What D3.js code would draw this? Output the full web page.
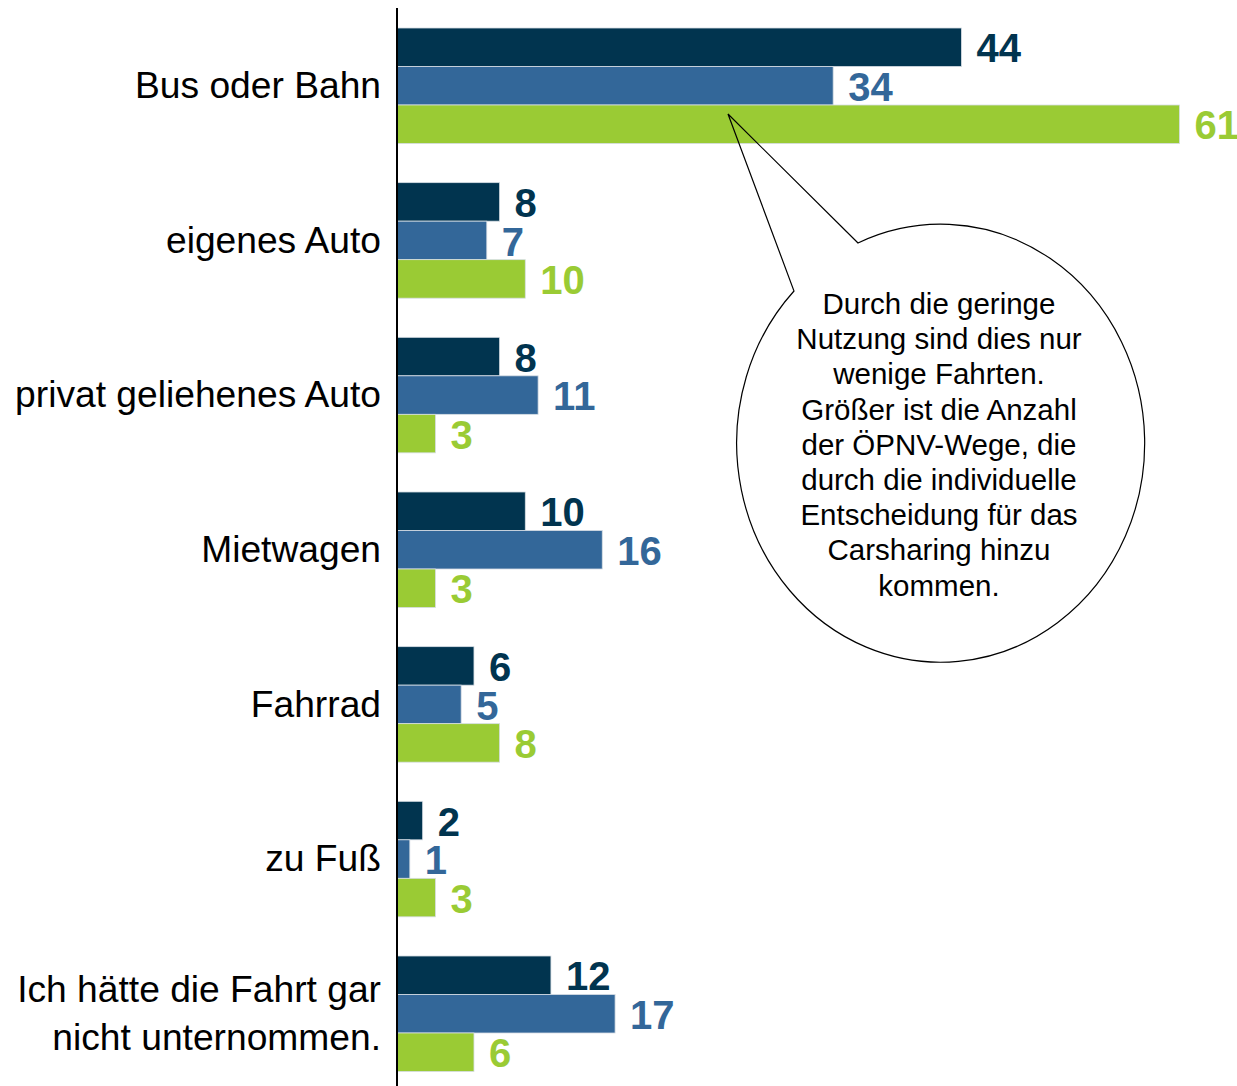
<!DOCTYPE html>
<html>
<head>
<meta charset="utf-8">
<script src="https://cdn.jsdelivr.net/npm/d3@7"></script>
<style>
	body { margin: 0; background: #fff; }
	svg { display: block; }
	text { font-family: "Liberation Sans", Arial, sans-serif; }
</style>
</head>
<body>
<svg id="chart" width="1237" height="1086"></svg>
<script>
// categories (top to bottom), label lines per category
var categories = [
	["Bus oder Bahn"],
	["eigenes Auto"],
	["privat geliehenes Auto"],
	["Mietwagen"],
	["Fahrrad"],
	["zu Fuß"],
	["Ich hätte die Fahrt gar", "nicht unternommen."]
];

// three series, drawn in this order inside each group
var series = ["s1", "s2", "s3"];
var s1_values = [44, 8, 8, 10, 6, 2, 12];
var s2_values = [34, 7, 11, 16, 5, 1, 17];
var s3_values = [61, 10, 3, 3, 8, 3, 6];

var callout_lines = [
	"Durch die geringe",
	"Nutzung sind dies nur",
	"wenige Fahrten.",
	"Größer ist die Anzahl",
	"der ÖPNV-Wege, die",
	"durch die individuelle",
	"Entscheidung für das",
	"Carsharing hinzu",
	"kommen."
];

var colors = { s1: "#01344f", s2: "#336799", s3: "#9acb34" };

var svg = d3.select("#chart");

var rows = categories.map(function(c, i){
	return { label: c, s1: s1_values[i], s2: s2_values[i], s3: s3_values[i] };
});

/* scales */
var x = d3.scaleLinear().domain([0, 61]).range([397, 1179.5]);

var y = d3.scaleBand()
	.domain(d3.range(categories.length))
	.range([28, 1071.5])
	.paddingInner(0.2532)
	.paddingOuter(0);

var y_inner = d3.scaleBand().domain(series).range([0, y.bandwidth()]).padding(0);

/* bars */
var group = svg.append("g")
	.attr("class", "groups")
	.selectAll("g")
	.data(rows)
	.enter().append("g")
	.attr("transform", function(d, i){ return "translate(0," + y(i) + ")"; });

group.selectAll("rect")
	.data(function(d){ return series.map(function(s){ return { key: s, value: d[s] }; }); })
	.enter().append("rect")
	.attr("x", x(0))
	.attr("y", function(d){ return y_inner(d.key); })
	.attr("width", function(d){ return x(d.value) - x(0); })
	.attr("height", y_inner.bandwidth())
	.attr("fill", function(d){ return colors[d.key]; })
	.attr("stroke", "#d6dde4")
	.attr("stroke-width", 0.8);

group.selectAll("text.value")
	.data(function(d){ return series.map(function(s){ return { key: s, value: d[s] }; }); })
	.enter().append("text")
	.attr("class", "value")
	.attr("x", function(d){ return x(d.value) + 15; })
	.attr("y", function(d){ return y_inner(d.key) + y_inner.bandwidth() / 2; })
	.attr("dy", "0.38em")
	.attr("font-size", 40)
	.attr("font-weight", "bold")
	.attr("fill", function(d){ return colors[d.key]; })
	.text(function(d){ return d.value; });

/* category labels */
var line_h = 48;
group.append("text")
	.attr("class", "category")
	.attr("text-anchor", "end")
	.attr("font-size", 37.2)
	.attr("fill", "#000")
	.each(function(d){
		var t = d3.select(this);
		var n = d.label.length;
		d.label.forEach(function(line, k){
			t.append("tspan")
				.attr("x", 381)
				.attr("y", y.bandwidth() / 2 + (k - (n - 1) / 2) * line_h)
				.attr("dy", "0.33em")
				.text(line);
		});
	});

/* axis line */
svg.append("line")
	.attr("x1", 397).attr("x2", 397)
	.attr("y1", 8).attr("y2", 1086)
	.attr("stroke", "#000")
	.attr("stroke-width", 2);

/* speech bubble */
var cx = 939, cy = 444, rx = 204, ry = 219;
var tip = [728, 114];
var base1 = [858, 243], base2 = [794, 291];

svg.append("path")
	.attr("d", "M" + base1 + "L" + tip + "L" + base2 +
		"A" + rx + "," + ry + " 0 1 0 " + base1 + "Z")
	.attr("fill", "none")
	.attr("stroke", "#000")
	.attr("stroke-width", 1.2);

svg.append("text")
	.attr("text-anchor", "middle")
	.attr("font-size", 29.5)
	.attr("fill", "#000")
	.selectAll("tspan")
	.data(callout_lines)
	.enter().append("tspan")
	.attr("x", cx)
	.attr("y", function(d, i){ return 314 + i * 35.2; })
	.text(function(d){ return d; });
</script>
</body>
</html>
